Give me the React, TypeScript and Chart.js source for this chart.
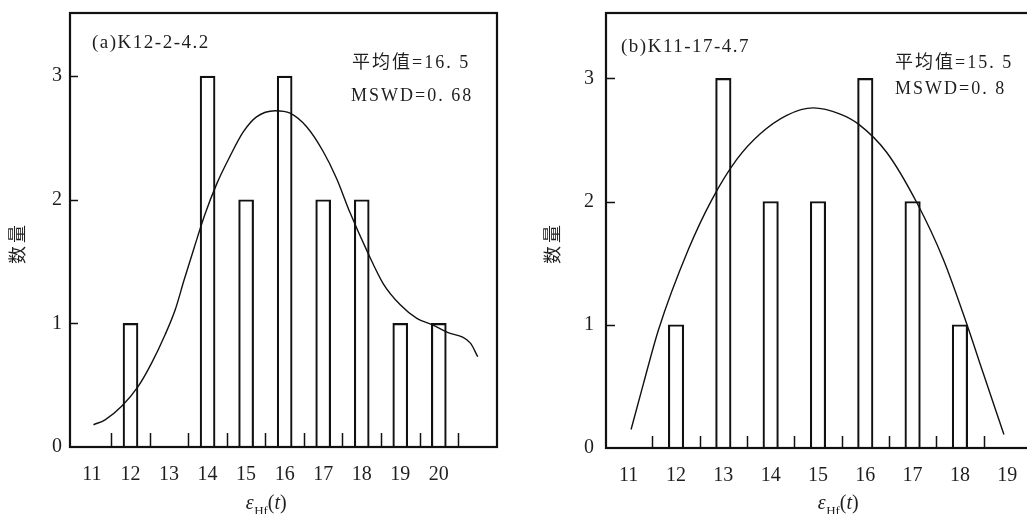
import React, { useEffect, useRef } from "react";
import { Chart, registerables } from "chart.js";

Chart.register(...registerables);

// ---------- Data: panel (a) K12-2-4.2 ----------
const aCategories = [12, 14, 15, 16, 17, 18, 19, 20];
const aCounts = [1, 3, 2, 3, 2, 2, 1, 1];
const aCurveX = [11.04, 11.34, 11.77, 12.2, 12.55, 12.9, 13.16, 13.39, 13.66, 13.93, 14.24, 14.58, 14.93, 15.27, 15.75, 16.14, 16.57, 17.0, 17.35, 17.69, 18.13, 18.56, 19.0, 19.43, 19.82, 20.21, 20.82, 21.01];
const aCurveY = [0.18, 0.22, 0.33, 0.49, 0.68, 0.91, 1.11, 1.35, 1.62, 1.88, 2.13, 2.35, 2.55, 2.67, 2.72, 2.7, 2.59, 2.39, 2.17, 1.9, 1.59, 1.32, 1.15, 1.04, 0.99, 0.93, 0.84, 0.73];
const aXLabels = [11, 12, 13, 14, 15, 16, 17, 18, 19, 20];
const aXMinor = [11.5, 12.5, 13.5, 14.5, 15.5, 16.5, 17.5, 18.5, 19.5, 20.5];

// ---------- Data: panel (b) K11-17-4.7 ----------
const bCategories = [12, 13, 14, 15, 16, 17, 18];
const bCounts = [1, 3, 2, 2, 3, 2, 1];
const bCurveX = [11.05, 11.31, 11.63, 12.26, 12.75, 13.28, 13.78, 14.34, 14.9, 15.47, 15.85, 16.45, 17.09, 17.65, 18.15, 18.49, 18.93];
const bCurveY = [0.15, 0.52, 0.96, 1.61, 2.01, 2.34, 2.55, 2.7, 2.76, 2.71, 2.63, 2.4, 1.99, 1.53, 1.0, 0.61, 0.11];
const bXLabels = [11, 12, 13, 14, 15, 16, 17, 18, 19];
const bXMinor = [11.5, 12.5, 13.5, 14.5, 15.5, 16.5, 17.5, 18.5];

const yLabels = [0, 1, 2, 3];
const yTickMarks = [1, 2, 3];

const aTitle = "(a)K12-2-4.2";
const aMean = "平均值=16. 5";
const aMswd = "MSWD=0. 68";
const bTitle = "(b)K11-17-4.7";
const bMean = "平均值=15. 5";
const bMswd = "MSWD=0. 8";
const yAxisTitle = "数量";

const INK = "#111";
const TEXT = "#1e1e1e";
const SERIF = '"Liberation Serif", "Times New Roman", serif';

type Spec = {
  canvasLeft: number;
  canvasW: number;
  cats: number[];
  counts: number[];
  cx: number[];
  cy: number[];
  xLabels: number[];
  xMinor: number[];
  xMin: number;
  xMax: number;
  yMax: number;
  yAxisW: number;
  xAxisH: number;
  padRight: number;
  yPad: number;
  barW: number;
  yTickLen: number;
  xTickLen: number;
  title: string;
  mean: string;
  mswd: string;
  titlePos: [number, number];
  meanPos: [number, number];
  mswdPos: [number, number];
  yTitlePos: [number, number];
  xTitleCenter: number;
};

const specA: Spec = {
  canvasLeft: 0,
  canvasW: 513,
  cats: aCategories,
  counts: aCounts,
  cx: aCurveX,
  cy: aCurveY,
  xLabels: aXLabels,
  xMinor: aXMinor,
  xMin: 10.43,
  xMax: 21.51,
  yMax: 3.51,
  yAxisW: 70,
  xAxisH: 67,
  padRight: 16,
  yPad: 8,
  barW: 15,
  yTickLen: 8,
  xTickLen: 14,
  title: aTitle,
  mean: aMean,
  mswd: aMswd,
  titlePos: [92, 43],
  meanPos: [352, 63],
  mswdPos: [351, 96],
  yTitlePos: [17, 243],
  xTitleCenter: 266,
};

const specB: Spec = {
  canvasLeft: 513,
  canvasW: 520,
  cats: bCategories,
  counts: bCounts,
  cx: bCurveX,
  cy: bCurveY,
  xLabels: bXLabels,
  xMinor: bXMinor,
  xMin: 10.52,
  xMax: 19.46,
  yMax: 3.53,
  yAxisW: 93,
  xAxisH: 66,
  padRight: 4,
  yPad: 12,
  barW: 15.5,
  yTickLen: 9,
  xTickLen: 12,
  title: bTitle,
  mean: bMean,
  mswd: bMswd,
  titlePos: [621 - 513, 47],
  meanPos: [895 - 513, 63],
  mswdPos: [895 - 513, 89],
  yTitlePos: [552 - 513, 243],
  xTitleCenter: 838 - 513,
};

function makePlugin(spec: Spec) {
  return {
    id: "frameAndText",
    afterDatasetsDraw(chart: any) {
      const { ctx, chartArea: a, scales } = chart;
      ctx.save();
      ctx.strokeStyle = INK;
      ctx.lineWidth = 1.5;
      ctx.beginPath();
      yTickMarks.forEach((v) => {
        const y = Math.round(scales.y.getPixelForValue(v)) + 0.5;
        ctx.moveTo(a.left, y);
        ctx.lineTo(a.left + spec.yTickLen, y);
      });
      spec.xMinor.forEach((v) => {
        const x = Math.round(scales.x.getPixelForValue(v)) + 0.5;
        ctx.moveTo(x, a.bottom);
        ctx.lineTo(x, a.bottom - spec.xTickLen);
      });
      ctx.stroke();
      ctx.lineWidth = 2.2;
      ctx.strokeRect(a.left, a.top, a.right - a.left, a.bottom - a.top);
      ctx.restore();
    },
    afterDraw(chart: any) {
      const { ctx } = chart;
      ctx.save();
      ctx.fillStyle = TEXT;
      ctx.textBaseline = "middle";
      ctx.textAlign = "left";
      // panel title
      ctx.font = `19px ${SERIF}`;
      (ctx as any).letterSpacing = "1.5px";
      ctx.fillText(spec.title, spec.titlePos[0], spec.titlePos[1]);
      // mean & MSWD
      ctx.font = `18px ${SERIF}, "Noto Sans CJK SC"`;
      (ctx as any).letterSpacing = "2px";
      ctx.fillText(spec.mean, spec.meanPos[0], spec.meanPos[1]);
      ctx.fillText(spec.mswd, spec.mswdPos[0], spec.mswdPos[1]);
      (ctx as any).letterSpacing = "0px";
      // y-axis title (rotated)
      ctx.save();
      ctx.translate(spec.yTitlePos[0], spec.yTitlePos[1]);
      ctx.rotate(-Math.PI / 2);
      ctx.textAlign = "center";
      ctx.font = `18px "Noto Sans CJK SC"`;
      (ctx as any).letterSpacing = "3px";
      ctx.fillText(yAxisTitle, 0, 0);
      ctx.restore();
      (ctx as any).letterSpacing = "0px";
      // x-axis title: ε_Hf(t)
      ctx.textBaseline = "alphabetic";
      const base = 509;
      const fEps = `italic 20px ${SERIF}`;
      const fSub = `13px ${SERIF}`;
      const fPar = `20px ${SERIF}`;
      const fT = `italic 20px ${SERIF}`;
      const parts: [string, string, number][] = [
        ["ε", fEps, 0],
        ["Hf", fSub, 6],
        ["(", fPar, 0],
        ["t", fT, 0],
        [")", fPar, 0],
      ];
      let total = 0;
      const widths = parts.map(([t, f]) => {
        ctx.font = f;
        const w = ctx.measureText(t).width;
        total += w;
        return w;
      });
      let x = spec.xTitleCenter - total / 2;
      parts.forEach(([t, f, dy], i) => {
        ctx.font = f;
        ctx.fillText(t, x, base + dy);
        x += widths[i] + (i === 0 ? 0.5 : 0);
      });
      ctx.restore();
    },
  };
}

function makeConfig(spec: Spec): any {
  return {
    type: "bar",
    data: {
      datasets: [
        {
          type: "bar",
          data: spec.cats.map((c, i) => ({ x: c, y: spec.counts[i] })),
          backgroundColor: "rgba(255,255,255,0)",
          borderColor: INK,
          borderWidth: 1.5,
          borderSkipped: "start",
          barThickness: spec.barW,
          order: 2,
        },
        {
          type: "line",
          data: spec.cx.map((x, i) => ({ x, y: spec.cy[i] })),
          borderColor: INK,
          borderWidth: 1.4,
          pointRadius: 0,
          cubicInterpolationMode: "monotone",
          fill: false,
          order: 1,
        },
      ],
    },
    options: {
      responsive: false,
      maintainAspectRatio: false,
      animation: false,
      events: [],
      layout: { padding: { top: 13, right: spec.padRight, left: 0, bottom: 0 } },
      plugins: {
        legend: { display: false },
        tooltip: { enabled: false },
      },
      scales: {
        x: {
          type: "linear",
          min: spec.xMin,
          max: spec.xMax,
          offset: false,
          grid: { display: false, drawTicks: false },
          border: { display: false },
          afterBuildTicks: (s: any) => {
            s.ticks = spec.xLabels.map((v) => ({ value: v }));
          },
          afterFit: (s: any) => {
            s.height = spec.xAxisH;
            s.paddingLeft = 0;
            s.paddingRight = 0;
            s.paddingTop = 0;
            s.paddingBottom = 0;
          },
          ticks: {
            autoSkip: false,
            maxRotation: 0,
            padding: 16,
            color: TEXT,
            font: { family: SERIF, size: 20 },
            callback: (v: any) => String(v),
          },
        },
        y: {
          type: "linear",
          min: 0,
          max: spec.yMax,
          grid: { display: false, drawTicks: false },
          border: { display: false },
          afterBuildTicks: (s: any) => {
            s.ticks = yLabels.map((v) => ({ value: v }));
          },
          afterFit: (s: any) => {
            s.width = spec.yAxisW;
            s.paddingLeft = 0;
            s.paddingRight = 0;
            s.paddingTop = 0;
            s.paddingBottom = 0;
          },
          ticks: {
            padding: spec.yPad,
            color: TEXT,
            font: { family: SERIF, size: 20 },
            callback: (v: any) => String(v),
          },
        },
      },
    },
    plugins: [makePlugin(spec)],
  };
}

function Panel({ spec }: { spec: Spec }) {
  const ref = useRef<HTMLCanvasElement>(null);
  useEffect(() => {
    if (!ref.current) return;
    const chart = new Chart(ref.current, makeConfig(spec));
    return () => chart.destroy();
  }, [spec]);
  return (
    <canvas
      ref={ref}
      width={spec.canvasW}
      height={514}
      style={{ position: "absolute", left: spec.canvasLeft, top: 0, width: spec.canvasW, height: 514 }}
    />
  );
}

export default function App() {
  return (
    <div
      style={{
        position: "fixed",
        left: 0,
        top: 0,
        width: 1027,
        height: 514,
        overflow: "hidden",
        background: "#fff",
      }}
    >
      <Panel spec={specA} />
      <Panel spec={specB} />
    </div>
  );
}
